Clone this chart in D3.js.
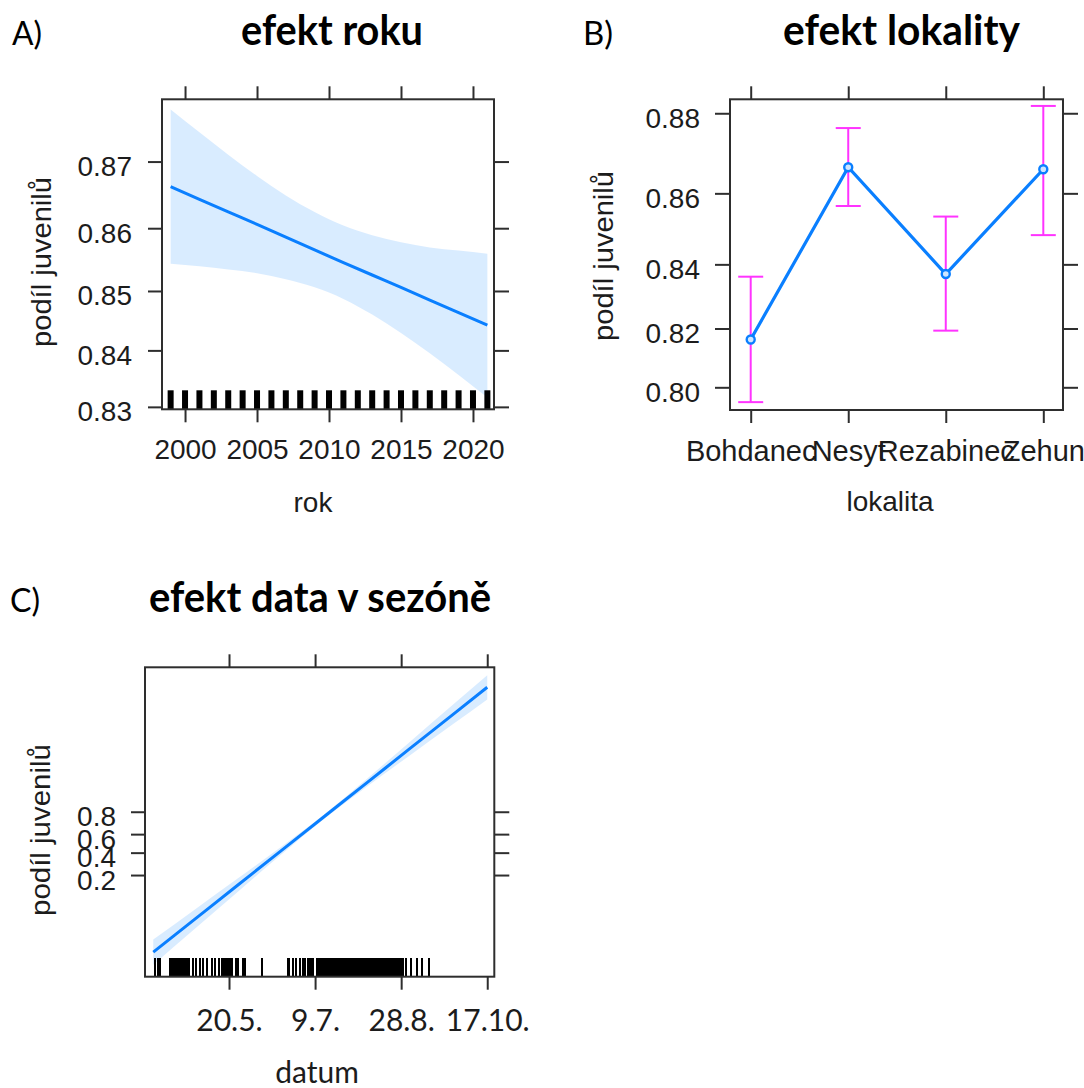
<!DOCTYPE html>
<html><head><meta charset="utf-8">
<script src="https://cdn.jsdelivr.net/npm/d3@7"></script>
<style>
html,body{margin:0;padding:0;background:#fff;}
svg{display:block;}
</style></head>
<body>
<svg id="chart" width="1084" height="1088"></svg>
<script>
// ---------- DATA ----------
// Panel A: efekt roku
const yearsA = [1999, 2001, 2003, 2005, 2007, 2009, 2011, 2013, 2015, 2017, 2019, 2021];
const fitA   = [0.8663, 0.8644, 0.8625, 0.8606, 0.8586, 0.8566, 0.8546, 0.8526, 0.8506, 0.8485, 0.8464, 0.8443];
const lowerA = [0.8544, 0.8540, 0.8535, 0.8529, 0.8519, 0.8506, 0.8487, 0.8461, 0.8430, 0.8395, 0.8357, 0.8317];
const upperA = [0.8774, 0.8742, 0.8710, 0.8679, 0.8650, 0.8625, 0.8604, 0.8589, 0.8578, 0.8570, 0.8565, 0.8560];
const rugYearsA = [1999, 2000, 2001, 2002, 2003, 2004, 2005, 2006, 2007, 2008, 2009, 2010,
                   2011, 2012, 2013, 2014, 2015, 2016, 2017, 2018, 2019, 2020, 2021];
const xTicksA = [2000, 2005, 2010, 2015, 2020];
const yTicksA = [0.83, 0.84, 0.85, 0.86, 0.87];

// Panel B: efekt lokality
const sitesB = ["Bohdanec", "Nesyt", "Rezabinec", "Zehun"];
const fitB   = [0.8164, 0.8668, 0.8371, 0.8663];
const lowerB = [0.7947, 0.8566, 0.8193, 0.8485];
const upperB = [0.8363, 0.8765, 0.8537, 0.8817];
const yTicksB = [0.80, 0.82, 0.84, 0.86, 0.88];

// Panel C: efekt data v sezóně (day of year)
const daysC  = [96, 120, 145, 170, 195, 220, 245, 270, 290];
const fitC   = [0.00846, 0.03461, 0.13786, 0.41629, 0.76084, 0.93417, 0.98445, 0.99647, 0.99893];
const lowerC = [0.00487, 0.02288, 0.10653, 0.37557, 0.74217, 0.92288, 0.97925, 0.99461, 0.99818];
const upperC = [0.01465, 0.05202, 0.17658, 0.45819, 0.77856, 0.94390, 0.98836, 0.99769, 0.99937];
const rugDaysC = [97, 99, 100, 106, 107, 108, 109, 110, 111, 112, 113, 114, 115, 116, 117,
  119, 121, 123, 125, 127, 130, 132, 134, 136, 137, 138, 139, 140, 141, 142, 144, 145, 148, 149,
  159, 174, 175, 177, 179, 181, 183, 184, 186, 187, 188, 189,
  191, 192, 193, 194, 195, 196, 197, 198, 199, 200, 201, 202, 203, 204, 205, 206, 207, 208, 209, 210,
  211, 212, 213, 214, 215, 216, 217, 218, 219, 220, 221, 222, 223, 224, 225, 226, 227, 228, 229, 230,
  231, 232, 233, 234, 235, 236, 237, 238, 239, 240, 241, 243, 246, 249, 252, 256];
const xTicksC = [140, 190, 240, 290];
const xTickLabelsC = ["20.5.", "9.7.", "28.8.", "17.10."];
const yTicksC = [0.2, 0.4, 0.6, 0.8];

// ---------- HELPERS ----------
const logit = p => Math.log(p / (1 - p));
const svg = d3.select("#chart");
const AX = "#2e2e2e";
const BLUE = "#0a7fff";
const MAG = "#ff33ff";
const ARIAL = "'Liberation Sans', Arial, sans-serif";
const CAL = "Lato, Carlito, sans-serif";
const TXT = "#1c1c1c";

function box(b) {
  svg.append("rect").attr("x", b.x0).attr("y", b.y0)
    .attr("width", b.x1 - b.x0).attr("height", b.y1 - b.y0)
    .attr("fill", "none").attr("stroke", AX).attr("stroke-width", 2);
}
function styleAxis(g, fontFamily, fontSize) {
  g.select(".domain").remove();
  g.selectAll(".tick line").attr("stroke", AX).attr("stroke-width", 2);
  g.selectAll(".tick text").attr("fill", TXT).style("font-family", fontFamily).style("font-size", fontSize + "px");
}
function frameAxes(b, x, y, xVals, yVals) {
  const top = svg.append("g").attr("transform", `translate(0,${b.y0})`)
    .call(d3.axisTop(x).tickValues(xVals).tickSize(13).tickFormat(() => ""));
  styleAxis(top, ARIAL, 10);
  const right = svg.append("g").attr("transform", `translate(${b.x1},0)`)
    .call(d3.axisRight(y).tickValues(yVals).tickSize(15).tickFormat(() => ""));
  styleAxis(right, ARIAL, 10);
}
function title(txt, x, y, len, size, weight) {
  svg.append("text").attr("x", x).attr("y", y).text(txt)
    .attr("fill", "#000").style("font-family", CAL).style("font-size", size + "px")
    .style("font-weight", weight)
    .attr("textLength", len).attr("lengthAdjust", "spacingAndGlyphs");
}
function ylab(cx, cy, len) {
  svg.append("text").attr("transform", `translate(${cx},${cy}) rotate(-90)`)
    .attr("text-anchor", "middle").text("podíl juvenilů")
    .attr("fill", TXT).style("font-family", ARIAL).style("font-size", "27px")
    .attr("textLength", len).attr("lengthAdjust", "spacingAndGlyphs");
}
function xlab(txt, cx, y, fam, size) {
  svg.append("text").attr("x", cx).attr("y", y).attr("text-anchor", "middle").text(txt)
    .attr("fill", TXT).style("font-family", fam).style("font-size", size + "px");
}

svg.append("rect").attr("width", 1084).attr("height", 1088).attr("fill", "#fff");

// ---------- TITLES ----------
title("A)", 12, 45, 30, 32, 400);
title("efekt roku", 241, 45, 182, 42, 700);
title("B)", 583, 45, 30, 32, 400);
title("efekt lokality", 783, 45, 237, 42, 700);
title("C)", 10, 612, 30, 32, 400);
title("efekt data v sezóně", 149, 612, 342, 42, 700);

// ---------- PANEL A ----------
{
  const b = {x0: 162, x1: 494, y0: 99.3, y1: 409.3};
  const x = d3.scaleLinear().domain([1998.4, 2021.46]).range([b.x0, b.x1]);
  const y = d3.scaleLinear().domain([1.5825, 1.9810]).range([b.y1, b.y0]);
  svg.append("clipPath").attr("id", "clipA").append("rect")
    .attr("x", b.x0).attr("y", b.y0).attr("width", b.x1 - b.x0).attr("height", b.y1 - b.y0);
  const rows = yearsA.map((yr, i) => ({yr, f: fitA[i], lo: lowerA[i], hi: upperA[i]}));
  const g = svg.append("g").attr("clip-path", "url(#clipA)");
  g.append("path").datum(rows)
    .attr("d", d3.area().x(d => x(d.yr)).y0(d => y(logit(d.lo))).y1(d => y(logit(d.hi))).curve(d3.curveMonotoneX))
    .attr("fill", "#0080ff").attr("fill-opacity", 0.15);
  g.append("path").datum(rows)
    .attr("d", d3.line().x(d => x(d.yr)).y(d => y(logit(d.f))).curve(d3.curveMonotoneX))
    .attr("fill", "none").attr("stroke", BLUE).attr("stroke-width", 3);
  g.selectAll("rect.rug").data(rugYearsA).enter().append("rect")
    .attr("x", d => x(d) - 3).attr("width", 6)
    .attr("y", b.y1 - 19).attr("height", 19).attr("fill", "#000");
  box(b);
  const ax = svg.append("g").attr("transform", `translate(0,${b.y1})`)
    .call(d3.axisBottom(x).tickValues(xTicksA).tickFormat(d3.format("d")).tickSize(13).tickPadding(17));
  styleAxis(ax, ARIAL, 28);
  const ay = svg.append("g").attr("transform", `translate(${b.x0},0)`)
    .call(d3.axisLeft(y).tickValues(yTicksA.map(logit)).tickSize(14).tickPadding(16)
      .tickFormat(d => d3.format(".2f")(1 / (1 + Math.exp(-d)))));
  styleAxis(ay, ARIAL, 28);
  ay.selectAll(".tick text").attr("dy", "0.5em");
  frameAxes(b, x, y, xTicksA, yTicksA.map(logit));
  xlab("rok", 313, 512, ARIAL, 28);
  ylab(51, 262, 170);
}

// ---------- PANEL B ----------
{
  const b = {x0: 730, x1: 1063, y0: 99.3, y1: 410};
  const x = d3.scalePoint().domain(sitesB).range([750.7, 1043.3]);
  const y = d3.scaleLinear().domain([1.3361, 2.0233]).range([b.y1, b.y0]);
  const rows = sitesB.map((s, i) => ({s, f: fitB[i], lo: lowerB[i], hi: upperB[i]}));
  const eb = svg.append("g");
  eb.selectAll("line.v").data(rows).enter().append("line")
    .attr("x1", d => x(d.s)).attr("x2", d => x(d.s))
    .attr("y1", d => y(logit(d.lo))).attr("y2", d => y(logit(d.hi)))
    .attr("stroke", MAG).attr("stroke-width", 2);
  ["lo", "hi"].forEach(k => {
    eb.selectAll("line.c" + k).data(rows).enter().append("line")
      .attr("x1", d => x(d.s) - 12.5).attr("x2", d => x(d.s) + 12.5)
      .attr("y1", d => y(logit(d[k]))).attr("y2", d => y(logit(d[k])))
      .attr("stroke", MAG).attr("stroke-width", 2);
  });
  svg.append("path").datum(rows)
    .attr("d", d3.line().x(d => x(d.s)).y(d => y(logit(d.f))))
    .attr("fill", "none").attr("stroke", BLUE).attr("stroke-width", 3.2);
  svg.selectAll("circle.pt").data(rows).enter().append("circle")
    .attr("cx", d => x(d.s)).attr("cy", d => y(logit(d.f))).attr("r", 4)
    .attr("fill", "#cfe6ff").attr("stroke", BLUE).attr("stroke-width", 2.4);
  box(b);
  const ax = svg.append("g").attr("transform", `translate(0,${b.y1})`)
    .call(d3.axisBottom(x).tickSize(13).tickPadding(17));
  styleAxis(ax, ARIAL, 29);
  const ay = svg.append("g").attr("transform", `translate(${b.x0},0)`)
    .call(d3.axisLeft(y).tickValues(yTicksB.map(logit)).tickSize(15).tickPadding(15)
      .tickFormat(d => d3.format(".2f")(1 / (1 + Math.exp(-d)))));
  styleAxis(ay, ARIAL, 28);
  ay.selectAll(".tick text").attr("dy", "0.5em");
  frameAxes(b, x, y, sitesB, yTicksB.map(logit));
  xlab("lokalita", 890, 511, ARIAL, 28);
  ylab(613, 256, 170);
}

// ---------- PANEL C ----------
{
  const b = {x0: 145, x1: 494.3, y0: 667.3, y1: 976.7};
  const x = d3.scaleLinear().domain([91.2, 294.1]).range([b.x0, b.x1]);
  const y = d3.scaleLinear().domain([-5.839, 7.713]).range([b.y1, b.y0]);
  svg.append("clipPath").attr("id", "clipC").append("rect")
    .attr("x", b.x0).attr("y", b.y0).attr("width", b.x1 - b.x0).attr("height", b.y1 - b.y0);
  const rows = daysC.map((dd, i) => ({dd, f: fitC[i], lo: lowerC[i], hi: upperC[i]}));
  const g = svg.append("g").attr("clip-path", "url(#clipC)");
  g.append("path").datum(rows)
    .attr("d", d3.area().x(d => x(d.dd)).y0(d => y(logit(d.lo))).y1(d => y(logit(d.hi))).curve(d3.curveMonotoneX))
    .attr("fill", "#0080ff").attr("fill-opacity", 0.15);
  g.append("path").datum(rows)
    .attr("d", d3.line().x(d => x(d.dd)).y(d => y(logit(d.f))).curve(d3.curveMonotoneX))
    .attr("fill", "none").attr("stroke", BLUE).attr("stroke-width", 3);
  g.selectAll("line.rug").data(rugDaysC).enter().append("line")
    .attr("x1", d => x(d)).attr("x2", d => x(d))
    .attr("y1", 958).attr("y2", b.y1)
    .attr("stroke", "#000").attr("stroke-width", 2)
    .attr("shape-rendering", "crispEdges");
  box(b);
  const ax = svg.append("g").attr("transform", `translate(0,${b.y1})`)
    .call(d3.axisBottom(x).tickValues(xTicksC).tickSize(13).tickPadding(20)
      .tickFormat((d, i) => xTickLabelsC[i]));
  styleAxis(ax, CAL, 30);
  const ay = svg.append("g").attr("transform", `translate(${b.x0},0)`)
    .call(d3.axisLeft(y).tickValues(yTicksC.map(logit)).tickSize(14).tickPadding(15)
      .tickFormat(d => d3.format(".1f")(1 / (1 + Math.exp(-d)))));
  styleAxis(ay, ARIAL, 28);
  ay.selectAll(".tick text").attr("dy", "0.5em");
  frameAxes(b, x, y, xTicksC, yTicksC.map(logit));
  xlab("datum", 317, 1083, CAL, 30);
  ylab(50, 830, 172);
}
</script>
</body></html>
